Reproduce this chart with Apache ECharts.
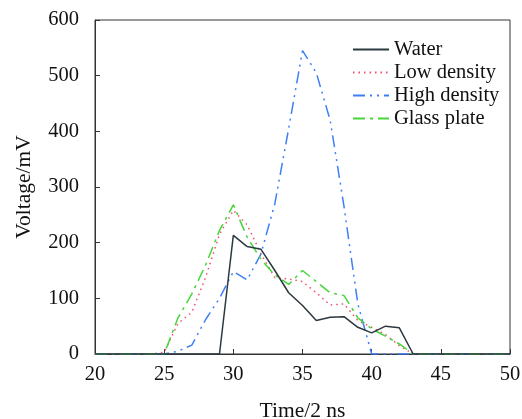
<!DOCTYPE html>
<html><head><meta charset="utf-8">
<script src="https://cdn.jsdelivr.net/npm/echarts@6/dist/echarts.min.js"></script>
<style>html,body{margin:0;padding:0;background:#fff}#c{width:522px;height:419px}</style>
</head><body><div id="c"></div>
<script>
var time = [20,21,22,23,24,25,26,27,28,29,30,31,32,33,34,35,36,37,38,39,40,41,42,43,44,45,46,47,48,49,50];
var water = [0,0,0,0,0,0,0,0,0,0,213,193,188,150,110,87,60,66,67,48,38,50,47,0,0,0,0,0,0,0,0];
var lowDensity = [0,0,0,0,0,3,55,75,138,215,258,232,180,137,135,130,110,88,90,60,48,35,15,0,0,0,0,0,0,0,0];
var highDensity = [0,0,0,0,0,0,5,16,62,100,148,133,180,270,405,545,505,420,265,90,0,0,0,0,0,0,0,0,0,0,0];
var glassPlate = [0,0,0,0,0,0,65,108,160,222,268,210,170,142,125,150,130,110,105,65,45,32,18,0,0,0,0,0,0,0,0];
var xTicks = [20,25,30,35,40,45,50];
var yTicks = [0,100,200,300,400,500,600];

function pairs(v){ return time.map(function(t,i){ return [t, v[i]]; }); }
var font = 'Liberation Serif';
var chart = echarts.init(document.getElementById('c'));
chart.setOption({
  animation:false,
  grid:{left:95,right:12,top:20,bottom:65,outerBoundsMode:'none',containLabel:false,show:true,borderColor:'#333',borderWidth:1,backgroundColor:'transparent'},
  legend:{
    orient:'vertical', left:347, top:34, itemWidth:36, itemHeight:12, itemGap:2,
    itemStyle:{opacity:0},
    textStyle:{fontFamily:font,fontSize:20.5,color:'#111',padding:[0,0,0,0]},
    data:['Water','Low density','High density','Glass plate']
  },
  xAxis:{
    type:'value', min:20, max:50, interval:5,
    name:'Time/2 ns', nameLocation:'middle', nameGap:46,
    nameTextStyle:{fontFamily:font,fontSize:21.5,color:'#111'},
    axisLine:{lineStyle:{color:'#333'}},
    axisTick:{inside:true,length:5,lineStyle:{color:'#333'}},
    axisLabel:{fontFamily:font,fontSize:20.5,color:'#111',margin:10},
    splitLine:{show:false}
  },
  yAxis:{
    type:'value', min:0, max:600, interval:100,
    name:'Voltage/mV', nameLocation:'middle', nameGap:60, nameRotate:90,
    nameTextStyle:{fontFamily:font,fontSize:21.5,color:'#111'},
    axisLine:{show:true,lineStyle:{color:'#333'}},
    axisTick:{show:true,inside:true,length:5,lineStyle:{color:'#333'}},
    axisLabel:{fontFamily:font,fontSize:20.5,color:'#111',margin:16},
    splitLine:{show:false}
  },
  series:[
    {name:'Water',type:'line',data:pairs(water),showSymbol:false,symbol:'none',color:'#2c3940',lineStyle:{width:1.5,type:'solid',color:'#2c3940'},z:5},
    {name:'Low density',type:'line',data:pairs(lowDensity),showSymbol:false,symbol:'none',color:'#f0506e',lineStyle:{width:1.5,type:[1.5,4],color:'#f0506e'}},
    {name:'High density',type:'line',data:pairs(highDensity),showSymbol:false,symbol:'none',color:'#3d7ff5',lineStyle:{width:1.5,type:[12,5,2,5,2,5],color:'#3d7ff5'}},
    {name:'Glass plate',type:'line',data:pairs(glassPlate),showSymbol:false,symbol:'none',color:'#45d63a',lineStyle:{width:1.5,type:[12,5,3,5],color:'#45d63a'}}
  ]
});
</script></body></html>
